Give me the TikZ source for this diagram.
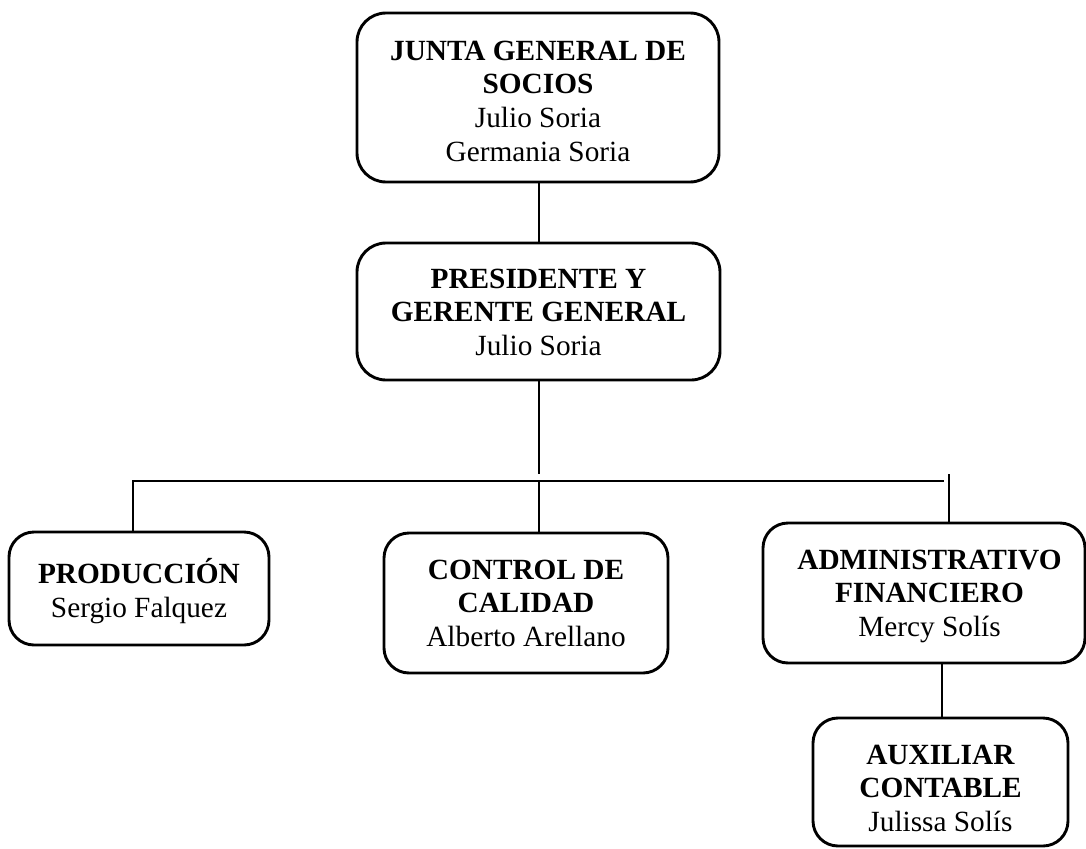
\documentclass[tikz,border=0pt]{standalone}
\usepackage{fontspec}
\setmainfont{Liberation Serif}
\newcommand{\orgtext}[5]{\parbox[c][#2][t]{#1}{\vspace*{#3}\centering\leftskip=#4 plus 1fil\relax\fontsize{29.3pt}{33.7pt}\selectfont #5\par}}
\begin{document}
\begin{tikzpicture}[x=1pt,y=-1pt,
  orgbox/.style={draw, line width=2.9pt, rounded corners=25pt, inner sep=0pt, fill=white},
  conn/.style={draw, line width=2.9pt}]
\useasboundingbox[fill=white] (0,0) rectangle (1086,848);

\node[orgbox, rounded corners=29pt] (junta) at (538,97.5)
  {\orgtext{362pt}{169pt}{23.5pt}{0pt}{\strut\textbf{JUNTA GENERAL DE}\\\strut\textbf{SOCIOS}\\\strut Julio Soria\\\strut Germania Soria}};
\node[orgbox, rounded corners=29pt] (pres) at (538.5,311.5)
  {\orgtext{363pt}{137pt}{21.5pt}{0pt}{\strut\textbf{PRESIDENTE Y}\\\strut\textbf{GERENTE GENERAL}\\\strut Julio Soria}};
\node[orgbox] (prod) at (139,588.5)
  {\orgtext{260pt}{113pt}{26.5pt}{0pt}{\strut\textbf{PRODUCCIÓN}\\\strut Sergio Falquez}};
\node[orgbox] (ctrl) at (526,603)
  {\orgtext{284pt}{140pt}{22.5pt}{0pt}{\strut\textbf{CONTROL DE}\\\strut\textbf{CALIDAD}\\\strut Alberto Arellano}};
\node[orgbox] (admin) at (924,593)
  {\orgtext{322pt}{140pt}{22.5pt}{11pt}{\strut\textbf{ADMINISTRATIVO}\\\strut\textbf{FINANCIERO}\\\strut Mercy Solís}};
\node[orgbox] (aux) at (940.5,782)
  {\orgtext{255pt}{128pt}{22.5pt}{0pt}{\strut\textbf{AUXILIAR}\\\strut\textbf{CONTABLE}\\\strut Julissa Solís}};

\coordinate (busC) at (539,474);
\coordinate (busL) at (133,481);
\coordinate (busR) at (944,481);
\coordinate (busM) at (539,481);
\coordinate (adminTop) at (949,474);

\draw[conn] ([xshift=1pt]junta.south) -- ([xshift=1pt]junta.south |- pres.north);
\draw[conn] ([xshift=0.5pt]pres.south) -- (busC);
\draw[conn] (busL |- prod.north) -- (busL) -- (busR);
\draw[conn] (busM) -- (busM |- ctrl.north);
\draw[conn] (adminTop) -- (adminTop |- admin.north);
\draw[conn] ([xshift=18pt]admin.south) -- ([xshift=18pt]admin.south |- aux.north);
\end{tikzpicture}
\end{document}
